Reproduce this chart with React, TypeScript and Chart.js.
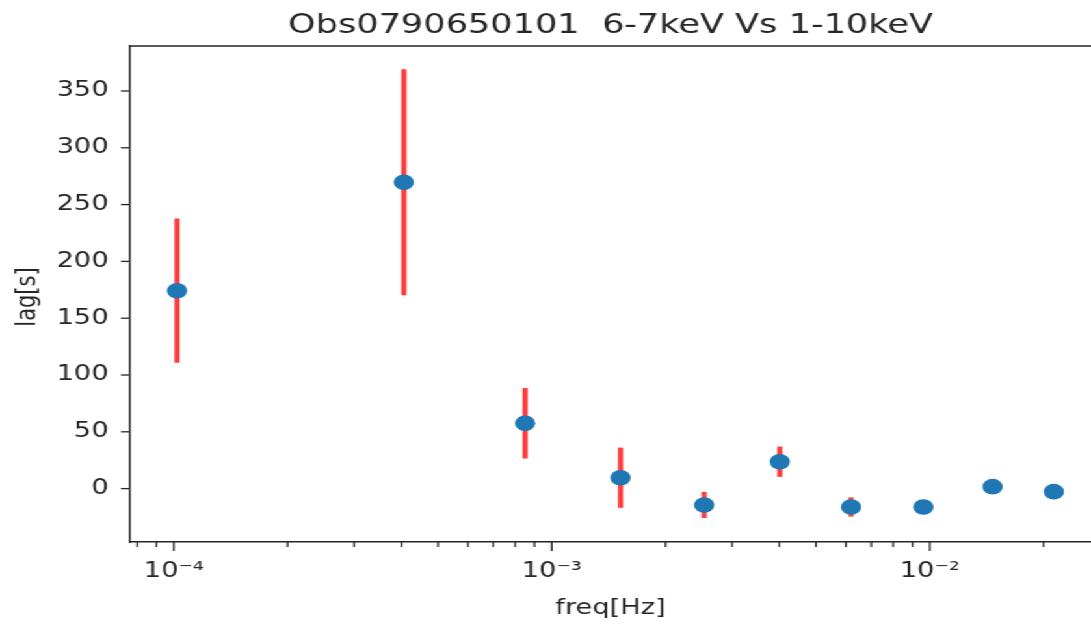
import React, { useEffect, useRef } from 'react';
import { Chart, registerables } from 'chart.js';

Chart.register(...registerables);

// ---- data ----
const freqs = [1.02e-4, 4.06e-4, 8.5e-4, 1.52e-3, 2.53e-3, 4.01e-3, 6.19e-3, 9.62e-3, 1.466e-2, 2.13e-2];
const lags = [174.2, 269.6, 57.5, 9.6, -14.4, 23.7, -16.2, -16.2, 1.7, -2.7];
const lagErr = [63.5, 99.5, 31, 26.5, 11.5, 13.3, 8.5, 3, 3, 3];
const yTickValues = [0, 50, 100, 150, 200, 250, 300, 350];
const xDecades = [-5, -4, -3, -2, -1];
const titleText = 'Obs0790650101  6-7keV Vs 1-10keV';
const xLabel = 'freq[Hz]';
const yLabel = 'lag[s]';

const X_MIN = 7.66e-5;
const X_MAX = 0.0267;
const Y_MIN = -47;
const Y_MAX = 389.6;

const CW = 839;
const CH = 628;
const STRETCH = 1091 / CW;
const FONT = "'DejaVu Sans', sans-serif";
const INK = '#262626';

const SUP: Record<string, string> = {
  '-': '\u207B', '0': '\u2070', '1': '\u00B9', '2': '\u00B2', '3': '\u00B3',
  '4': '\u2074', '5': '\u2075', '6': '\u2076', '7': '\u2077', '8': '\u2078', '9': '\u2079',
};

const xTickValues: { v: number; major: boolean }[] = [];
xDecades.forEach((e) => {
  for (let s = 1; s <= 9; s++) {
    const v = parseFloat(`${s}e${e}`);
    if (v >= X_MIN && v <= X_MAX) xTickValues.push({ v, major: s === 1 });
  }
});

function isDecade(v: number) {
  const l = Math.log10(v);
  return Math.abs(l - Math.round(l)) < 1e-9;
}

function decadeLabel(v: number) {
  const e = String(Math.round(Math.log10(v)));
  return '10' + e.split('').map((c) => SUP[c] || c).join('');
}

const decoPlugin = {
  id: 'deco',
  beforeDatasetsDraw(chart: any) {
    const { ctx, chartArea } = chart;
    const xs = chart.scales.x;
    const ys = chart.scales.y;
    ctx.save();
    ctx.beginPath();
    ctx.rect(chartArea.left, chartArea.top, chartArea.right - chartArea.left, chartArea.bottom - chartArea.top);
    ctx.clip();
    ctx.strokeStyle = '#ff3b3b';
    ctx.lineWidth = 4;
    ctx.lineCap = 'butt';
    freqs.forEach((f, i) => {
      const x = xs.getPixelForValue(f);
      const y1 = ys.getPixelForValue(lags[i] - lagErr[i]);
      const y2 = ys.getPixelForValue(lags[i] + lagErr[i]);
      ctx.beginPath();
      ctx.moveTo(x, y1);
      ctx.lineTo(x, y2);
      ctx.stroke();
    });
    ctx.restore();
  },
  afterDraw(chart: any) {
    const { ctx, chartArea } = chart;
    const xs = chart.scales.x;
    const ys = chart.scales.y;
    ctx.save();
    ctx.strokeStyle = INK;
    ctx.lineWidth = 1.3;
    // x ticks
    xTickValues.forEach(({ v, major }) => {
      const x = xs.getPixelForValue(v);
      ctx.beginPath();
      ctx.moveTo(x, chartArea.bottom);
      ctx.lineTo(x, chartArea.bottom + (major ? 9 : 5));
      ctx.stroke();
    });
    // y ticks
    yTickValues.forEach((v) => {
      const y = ys.getPixelForValue(v);
      ctx.beginPath();
      ctx.moveTo(chartArea.left, y);
      ctx.lineTo(chartArea.left - 7, y);
      ctx.stroke();
    });
    // top spine
    ctx.lineWidth = 1.5;
    ctx.beginPath();
    ctx.moveTo(chartArea.left, chartArea.top);
    ctx.lineTo(chartArea.right + 2, chartArea.top);
    ctx.stroke();
    // titles
    ctx.fillStyle = INK;
    ctx.textAlign = 'center';
    ctx.textBaseline = 'alphabetic';
    const cx = (chartArea.left + chartArea.right) / 2;
    ctx.font = `27px ${FONT}`;
    ctx.fillText(titleText, cx, 33);
    ctx.font = `21px ${FONT}`;
    ctx.fillText(xLabel, cx, 614);
    ctx.translate(27, (chartArea.top + chartArea.bottom) / 2 + 3);
    ctx.rotate(-Math.PI / 2);
    ctx.fillText(yLabel, 0, 0);
    ctx.restore();
  },
};

export default function App() {
  const ref = useRef<HTMLCanvasElement | null>(null);
  useEffect(() => {
    if (!ref.current) return;
    const chart = new Chart(ref.current, {
      type: 'scatter',
      data: {
        datasets: [
          {
            data: freqs.map((f, i) => ({ x: f, y: lags[i] })),
            backgroundColor: '#1f77b4',
            borderWidth: 0,
            pointRadius: 7.8,
            showLine: false,
          },
        ],
      },
      options: {
        animation: false,
        responsive: false,
        devicePixelRatio: 1,
        layout: { autoPadding: false, padding: { top: 46, left: 0, right: 0, bottom: 0 } },
        plugins: {
          legend: { display: false },
          title: { display: false },
          tooltip: { enabled: false },
        },
        scales: {
          x: {
            type: 'logarithmic',
            min: X_MIN,
            max: X_MAX,
            grid: { display: false, drawTicks: true, tickLength: 9 },
            border: { display: true, color: INK, width: 1.5 },
            afterBuildTicks: (scale: any) => {
              scale.ticks = xTickValues.map(({ v }) => ({ value: v }));
            },
            afterFit: (scale: any) => {
              scale.height = 86;
              scale.paddingLeft = 0;
              scale.paddingRight = 0;
            },
            ticks: {
              autoSkip: false,
              maxRotation: 0,
              minRotation: 0,
              padding: 8,
              color: INK,
              font: { family: FONT, size: 21 },
              callback: (value: any) => (isDecade(Number(value)) ? decadeLabel(Number(value)) : ''),
            },
          },
          y: {
            type: 'linear',
            min: Y_MIN,
            max: Y_MAX,
            grid: { display: false, drawTicks: true, tickLength: 7 },
            border: { display: true, color: INK, width: 1.5 },
            afterBuildTicks: (scale: any) => {
              scale.ticks = yTickValues.map((v) => ({ value: v }));
            },
            afterFit: (scale: any) => {
              scale.width = 100;
              scale.paddingTop = 0;
              scale.paddingBottom = 0;
            },
            ticks: {
              padding: 9.5,
              color: INK,
              font: { family: FONT, size: 21 },
              callback: (value: any) => String(value),
            },
          },
        },
      },
      plugins: [decoPlugin],
    });
    return () => chart.destroy();
  }, []);

  return (
    <div
      style={{
        position: 'fixed',
        left: 0,
        top: 0,
        width: CW,
        height: CH,
        transform: `scaleX(${STRETCH})`,
        transformOrigin: '0 0',
        background: '#fff',
      }}
    >
      <canvas ref={ref} width={CW} height={CH} />
    </div>
  );
}
